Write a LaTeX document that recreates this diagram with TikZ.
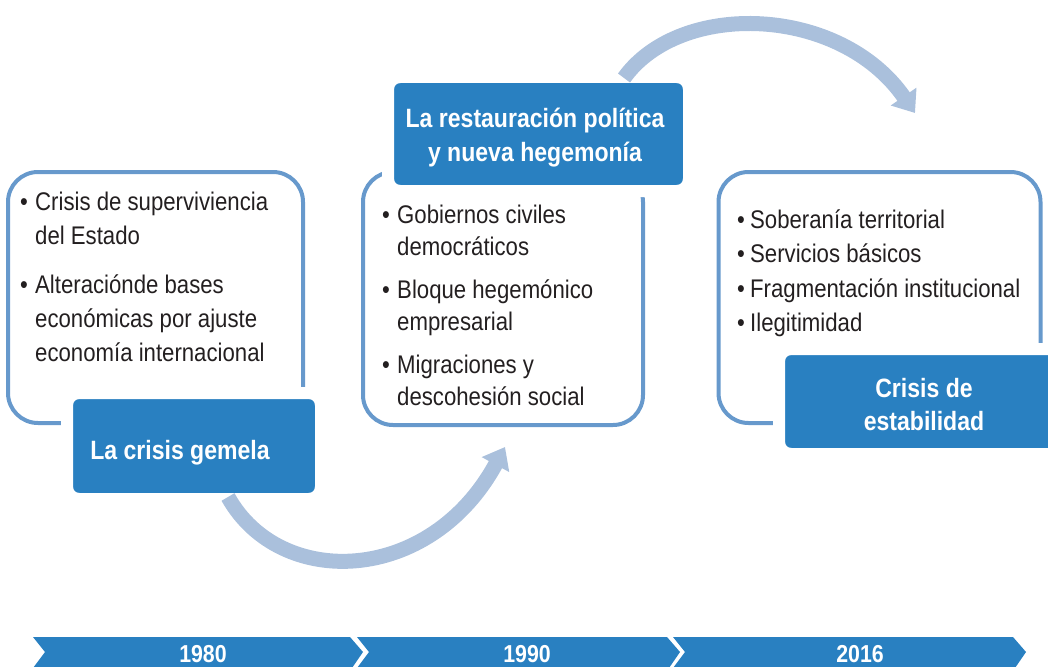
\documentclass[tikz,border=0pt]{standalone}
\usepackage{fontspec}
\setmainfont{Liberation Sans}[FakeStretch=0.87]
\usetikzlibrary{arrows.meta}
\definecolor{boxline}{RGB}{103,153,204}
\definecolor{tagblue}{RGB}{41,128,193}
\definecolor{arrowblue}{RGB}{170,192,220}
\definecolor{bodytext}{RGB}{35,31,32}
\tikzset{
  outline/.style={draw=boxline, line width=4pt, rounded corners=30pt, inner sep=0pt, outer sep=0pt},
  tag/.style={fill=tagblue, draw=white, line width=12pt, rounded corners=12pt, inner sep=0pt, outer sep=0pt},
  tagtext/.style={text=white, font=\bfseries\fontsize{26.5}{33}\selectfont, inner sep=0pt, anchor=base},
  bodylist/.style={text=bodytext, inner sep=0pt, anchor=base west},
  flow/.style={draw=arrowblue, line width=15pt, -{Triangle[length=20pt,width=30pt]}},
  chev/.style={fill=tagblue},
  yeartext/.style={text=white, font=\bfseries\fontsize{24.5}{26}\selectfont, inner sep=0pt, anchor=base}
}
\begin{document}
\begin{tikzpicture}[x=1pt,y=-1pt]
\useasboundingbox (0,0) rectangle (1048,666);
\clip (0,0) rectangle (1048,666);

% outline boxes
\node[outline, minimum width=295pt, minimum height=251pt] (o1) at (155.5,297.5) {};
\node[outline, minimum width=280pt, minimum height=253pt] (o2) at (503,298.5) {};
\node[outline, minimum width=322pt, minimum height=251pt] (o3) at (879.5,297.5) {};

% body lists
\node[bodylist] (l1) at (20,210) {\fontsize{25.5}{34}\selectfont
\begin{tabular}[t]{@{}p{15pt}@{}l@{}}
\textbullet & Crisis de superviviencia\\
 & del Estado\\[15pt]
\textbullet & Alteraciónde bases\\
 & económicas por ajuste\\
 & economía internacional
\end{tabular}};
\node[bodylist] (l2) at (382,223) {\fontsize{25.5}{32}\selectfont
\begin{tabular}[t]{@{}p{15pt}@{}l@{}}
\textbullet & Gobiernos civiles\\
 & democráticos\\[11pt]
\textbullet & Bloque hegemónico\\
 & empresarial\\[11pt]
\textbullet & Migraciones y\\
 & descohesión social
\end{tabular}};
\node[bodylist] (l3) at (737,228) {\fontsize{25.5}{34.5}\selectfont
\begin{tabular}[t]{@{}p{13pt}@{}l@{}}
\textbullet & Soberanía territorial\\
\textbullet & Servicios básicos\\
\textbullet & Fragmentación institucional\\
\textbullet & Ilegitimidad
\end{tabular}};

% tag boxes
\node[tag, minimum width=254pt, minimum height=106pt] (t1) at (194,446) {};
\node[tag, minimum width=301pt, minimum height=114pt] (t2) at (538.5,134) {};
\node[tag, minimum width=290pt, minimum height=105pt] (t3) at (924,401.5) {};

\node[tagtext] (c1) at (180,459) {La crisis gemela};
\node[tagtext] (c2) at (535,128) {\begin{tabular}[t]{@{}c@{}}La restauración política\\ y nueva hegemonía\end{tabular}};
\node[tagtext] (c3) at (924,397) {\begin{tabular}[t]{@{}c@{}}Crisis de\\ estabilidad\end{tabular}};

% curved arrows
\coordinate (a1s) at (228,497);
\coordinate (a1e) at (505,447);
\coordinate (a2s) at (624,78);
\coordinate (a2e) at (915,113);
\draw[flow] (a1s) .. controls (280,590) and (430,585) .. (a1e);
\draw[flow] (a2s) .. controls (680,0) and (840,5) .. (a2e);

% timeline
\fill[chev] (33,637) -- (350,637) -- (363,652) -- (352,668) -- (33,668) -- (45,652) -- cycle;
\fill[chev] (357,637) -- (667,637) -- (680,652) -- (669,668) -- (357,668) -- (369,652) -- cycle;
\fill[chev] (673,637) -- (1013,637) -- (1026,652) -- (1015,668) -- (673,668) -- (685,652) -- cycle;
\node[yeartext] (y1) at (203,662) {1980};
\node[yeartext] (y2) at (527,662) {1990};
\node[yeartext] (y3) at (860,662) {2016};
\end{tikzpicture}
\end{document}
